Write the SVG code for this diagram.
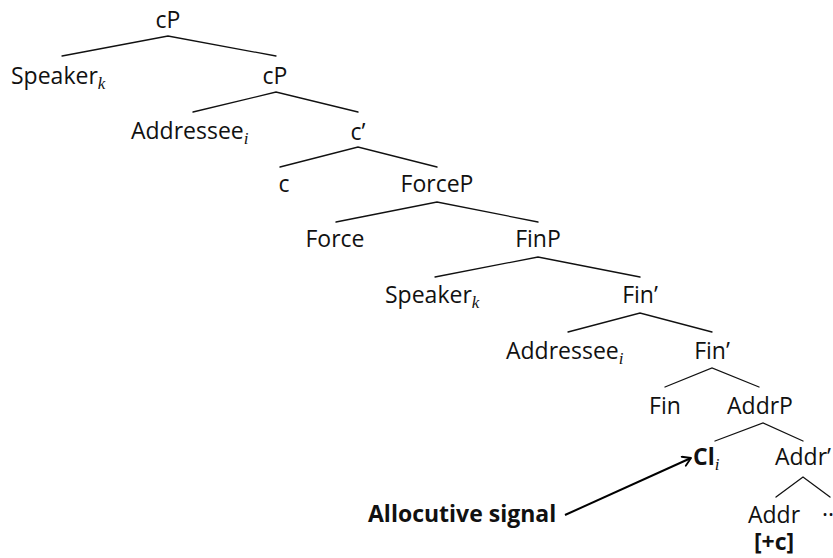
<svg xmlns="http://www.w3.org/2000/svg" width="833" height="558" viewBox="0 0 833 558">
  <style>
    .lbl { font-family: "Open Sans", "Noto Sans", sans-serif; font-size: 23px; fill: #111; }
    .mid { text-anchor: middle; }
    .b { font-weight: bold; }
    .sub { font-family: "Liberation Serif", "DejaVu Serif", serif; font-style: italic; font-size: 17px; }
    .edge { stroke: #111; stroke-width: 1.3; fill: none; stroke-linecap: round; }
    .arrow { stroke: #000; stroke-width: 2; fill: none; }
  </style>
  <defs>
    <marker id="head" viewBox="0 0 12 12" refX="10" refY="6" markerWidth="12" markerHeight="12" markerUnits="userSpaceOnUse" orient="auto">
      <path d="M2,1 L10,6 L2,11" fill="none" stroke="#000" stroke-width="1.8" stroke-linecap="round" stroke-linejoin="round"/>
    </marker>
  </defs>

  <rect width="833" height="558" fill="#fff"/>

  <!-- tree branches -->
  <g id="connectors">
    <path class="edge" d="M62,56 L168,36 L276,56"/>
    <path class="edge" d="M193,112 L276,92 L358,112"/>
    <path class="edge" d="M280,167 L358,147 L437,167"/>
    <path class="edge" d="M336,222 L437,202 L538,222"/>
    <path class="edge" d="M435,277 L538,257 L640,277"/>
    <path class="edge" d="M568,332 L640,313 L712,332"/>
    <path class="edge" d="M665,387 L712,368 L759,387"/>
    <path class="edge" d="M715,441 L763,423 L803,441"/>
    <path class="edge" d="M776,497 L803,477 L830,497"/>
    <path class="arrow" d="M565,515 L691,458" marker-end="url(#head)"/>
  </g>

  <!-- nodes -->
  <g id="cP1"><text class="lbl mid" x="168" y="28">cP</text></g>
  <g id="speaker1"><text class="lbl" x="11" y="84">Speaker<tspan class="sub" dy="5">k</tspan></text></g>
  <g id="cP2"><text class="lbl mid" x="275" y="84">cP</text></g>
  <g id="addressee1"><text class="lbl" x="131" y="139">Addressee<tspan class="sub" dy="5">i</tspan></text></g>
  <g id="cbar"><text class="lbl mid" x="358" y="140">c’</text></g>
  <g id="c"><text class="lbl mid" x="284" y="192">c</text></g>
  <g id="ForceP"><text class="lbl mid" x="437" y="192">ForceP</text></g>
  <g id="Force"><text class="lbl mid" x="335" y="247">Force</text></g>
  <g id="FinP"><text class="lbl mid" x="538" y="247">FinP</text></g>
  <g id="speaker2"><text class="lbl" x="385" y="303">Speaker<tspan class="sub" dy="5">k</tspan></text></g>
  <g id="Finbar1"><text class="lbl mid" x="640" y="303">Fin’</text></g>
  <g id="addressee2"><text class="lbl" x="506" y="359">Addressee<tspan class="sub" dy="5">i</tspan></text></g>
  <g id="Finbar2"><text class="lbl mid" x="712" y="359">Fin’</text></g>
  <g id="Fin"><text class="lbl mid" x="665" y="414">Fin</text></g>
  <g id="AddrP"><text class="lbl mid" x="760" y="414">AddrP</text></g>
  <g id="Cl"><text class="lbl" x="693" y="465"><tspan class="b">Cl</tspan><tspan class="sub" dy="5">i</tspan></text></g>
  <g id="Addrbar"><text class="lbl mid" x="803" y="465">Addr’</text></g>
  <g id="Addr"><text class="lbl mid" x="774" y="523">Addr</text><text class="lbl mid b" x="774" y="550">[+c]</text></g>
  <g id="rest"><text class="lbl mid" x="831" y="516">...</text></g>
  <g id="signal"><text class="lbl b" x="368" y="522">Allocutive signal</text></g>
</svg>
